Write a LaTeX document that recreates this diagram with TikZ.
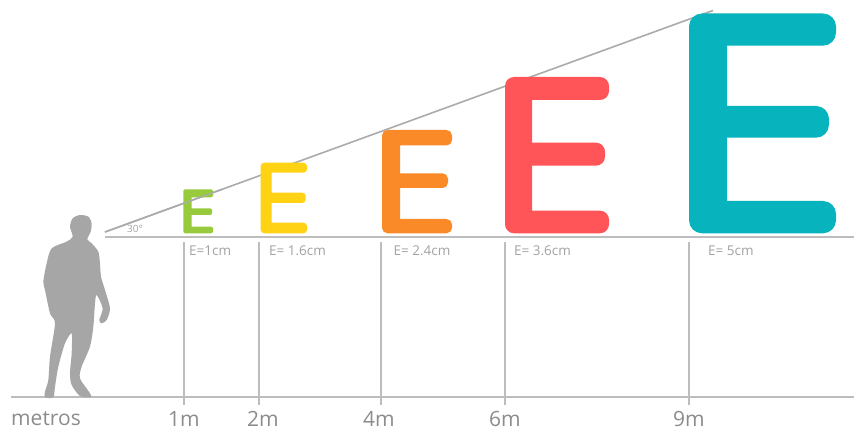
\documentclass[tikz,border=0pt]{standalone}
\usepackage{fontspec}
\setmainfont{Open Sans}
\definecolor{lineg}{HTML}{BDBDBD}
\definecolor{slant}{HTML}{ABABAB}
\definecolor{txtg}{HTML}{8C8C8C}
\definecolor{lblg}{HTML}{A3A3A3}
\definecolor{person}{HTML}{A6A6A6}
\definecolor{egreen}{HTML}{97CB3D}
\definecolor{eyellow}{HTML}{FFD314}
\definecolor{eorange}{HTML}{FA8A28}
\definecolor{ered}{HTML}{FF5558}
\definecolor{eteal}{HTML}{07B3BD}
\tikzset{
  rule/.style={draw=lineg,line width=2pt},
  slantline/.style={draw=slant,line width=1.6pt},
  metric/.style={text=txtg,font=\fontsize{21}{21}\selectfont,inner sep=0pt},
  sizelabel/.style={text=lblg,font=\fontsize{13.5}{13.5}\selectfont,inner sep=0pt,anchor=west},
  angletext/.style={text=lblg,font=\fontsize{10}{10}\selectfont,inner sep=0pt},
}
\begin{document}
\begin{tikzpicture}[x=1pt,y=-1pt]
\useasboundingbox[fill=white] (0,0) rectangle (854,430);
% named coordinates
\coordinate (sA) at (105,232);
\coordinate (sB) at (713,10.5);
\coordinate (sG) at (222,189.3);
\coordinate (bL) at (105,237.5);
\coordinate (bR) at (854,237.5);
\coordinate (gL) at (11,397);
\coordinate (gR) at (854,397);
\foreach \n/\x in {a/183.5,b/259,c/381,d/505,e/689}{
  \coordinate (\n T) at (\x,242);
  \coordinate (\n B) at (\x,405);
}
% lines
\draw[slantline] (sA) -- (sB);
\draw[rule] (bL) -- (bR);
\draw[rule] (gL) -- (gR);
\foreach \n in {a,b,c,d,e}{ \draw[rule] (\n T) -- (\n B); }
% letters
\fill[egreen,rounded corners=2pt]
  (183.3,189.3) rectangle (191.7,233.3)
  (183.3,189.3) rectangle (213,197.3)
  (183.3,208.3) rectangle (212,215)
  (183.3,226.7) rectangle (213,233.3);
\fill[eyellow,rounded corners=3.5pt]
  (260.7,162.7) rectangle (271.7,233.3)
  (260.7,162.7) rectangle (307,172.7)
  (260.7,192.7) rectangle (305.7,203)
  (260.7,222.7) rectangle (307,233.3);
\fill[eorange,rounded corners=5.5pt]
  (382,130) rectangle (400,233.3)
  (382,130) rectangle (452,145.5)
  (382,173.3) rectangle (448,188)
  (382,219) rectangle (452,233.3);
\fill[ered,rounded corners=9pt]
  (505,77) rectangle (532,233.3)
  (505,77) rectangle (609,100)
  (505,142.7) rectangle (605,165.7)
  (505,210.7) rectangle (609,233.3);
\fill[eteal,rounded corners=13pt]
  (689,13.5) rectangle (727,233.3)
  (689,13.5) rectangle (836,45.7)
  (689,106) rectangle (829,137.7)
  (689,201) rectangle (836,233.3);
% the slanted line stays visible across the smallest letter
\draw[slantline,draw opacity=.85] (sA) -- (sG);
% person
\begin{scope}[shift={(0,180)},x=0.3333pt,y=-0.3333pt]
\fill[person] plot[smooth cycle,tension=0.45] coordinates {
(240,105)(265,110)(275,130)(272,155)(262,178)(275,190)(295,215)(300,250)(303,290)
(315,330)(330,385)(320,420)(305,430)(298,420)(308,385)(290,345)(285,370)(280,440)
(270,500)(245,560)(240,595)(270,640)(272,652)(240,648)(215,615)(210,580)(215,520)
(215,460)(195,490)(175,560)(165,620)(160,652)(135,652)(135,635)(145,600)(150,530)
(165,430)(150,400)(135,330)(130,305)(140,250)(155,205)(200,185)(218,170)(210,140)(218,115)};
\end{scope}
% texts
\node[angletext] (ang) at (135,229) {30°};
\node[sizelabel] (l1) at (189,250.5) {E=1cm};
\node[sizelabel] (l2) at (269,250.5) {E= 1.6cm};
\node[sizelabel] (l3) at (393.5,250.5) {E= 2.4cm};
\node[sizelabel] (l4) at (514,250.5) {E= 3.6cm};
\node[sizelabel] (l5) at (708,250.5) {E= 5cm};
\node[metric] (m0) at (46,418.5) {metros};
\node[metric] (m1) at (184,419) {1m};
\node[metric] (m2) at (263,419) {2m};
\node[metric] (m4) at (379,419) {4m};
\node[metric] (m6) at (505,419) {6m};
\node[metric] (m9) at (689,419) {9m};
\end{tikzpicture}
\end{document}
